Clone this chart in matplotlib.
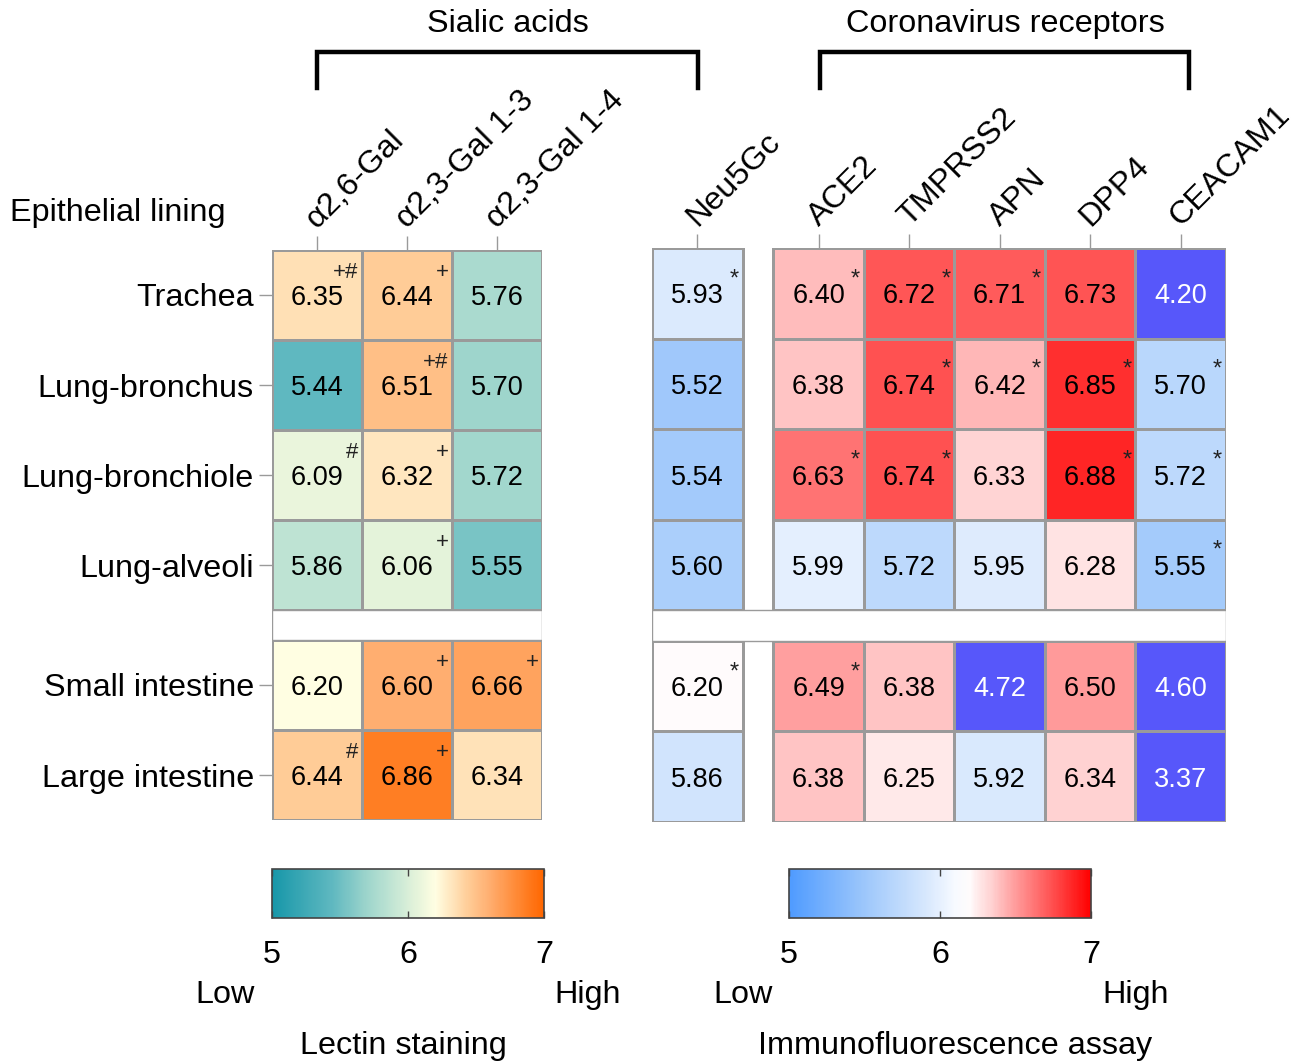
import numpy as np
import matplotlib
matplotlib.use("Agg")
import matplotlib.pyplot as plt
from matplotlib.colors import LinearSegmentedColormap, Normalize
from matplotlib.patches import Rectangle
from matplotlib.lines import Line2D
import matplotlib.cm as cm

plt.rcParams['font.family'] = ['Liberation Sans', 'DejaVu Sans']

# -------------------------------
# Data
# -------------------------------
tissues = ["Trachea", "Lung-bronchus", "Lung-bronchiole", "Lung-alveoli",
           "Small intestine", "Large intestine"]

lectins = ["α2,6-Gal", "α2,3-Gal 1-3", "α2,3-Gal 1-4"]
lectin_vals = [
    [6.35, 6.44, 5.76],
    [5.44, 6.51, 5.70],
    [6.09, 6.32, 5.72],
    [5.86, 6.06, 5.55],
    [6.20, 6.60, 6.66],
    [6.44, 6.86, 6.34],
]
lectin_marks = [
    ["+#", "+", ""],
    ["", "+#", ""],
    ["#", "+", ""],
    ["", "+", ""],
    ["", "+", "+"],
    ["#", "+", ""],
]

neu_label = "Neu5Gc"
neu_vals = [5.93, 5.52, 5.54, 5.60, 6.20, 5.86]
neu_marks = ["*", "", "", "", "*", ""]

receptors = ["ACE2", "TMPRSS2", "APN", "DPP4", "CEACAM1"]
receptor_vals = [
    [6.40, 6.72, 6.71, 6.73, 4.20],
    [6.38, 6.74, 6.42, 6.85, 5.70],
    [6.63, 6.74, 6.33, 6.88, 5.72],
    [5.99, 5.72, 5.95, 6.28, 5.55],
    [6.49, 6.38, 4.72, 6.50, 4.60],
    [6.38, 6.25, 5.92, 6.34, 3.37],
]
receptor_marks = [
    ["*", "*", "*", "", ""],
    ["", "*", "*", "*", "*"],
    ["*", "*", "", "*", "*"],
    ["", "", "", "", "*"],
    ["*", "", "", "", ""],
    ["", "", "", "", ""],
]

# -------------------------------
# Colormaps
# -------------------------------
def cmap_from_nodes(name, nodes, vmin=5, vmax=7):
    return LinearSegmentedColormap.from_list(
        name, [((v - vmin) / (vmax - vmin), c) for v, c in nodes])

lectin_cmap = cmap_from_nodes("lectin", [
    (5.0, "#1797a9"), (5.44, "#5fb8c0"), (5.7, "#9ed5cc"), (5.86, "#bde3d3"),
    (6.06, "#e4f3da"), (6.2, "#fffee2"), (6.35, "#ffe0b5"), (6.44, "#ffcd98"),
    (6.6, "#ffae70"), (6.86, "#ff7f25"), (7.0, "#ff6600")])

ifa_cmap = cmap_from_nodes("ifa", [
    (5.0, "#4f9bff"), (5.5, "#9dc7fb"), (5.9, "#d6e7fd"), (6.0, "#e6f0fe"),
    (6.1, "#f7faff"), (6.2, "#fffbfc"), (6.25, "#ffeaea"), (6.35, "#ffd0d0"),
    (6.4, "#ffbdbd"), (6.5, "#ff9c9c"), (6.72, "#ff5858"), (7.0, "#ff0000")])
ifa_cmap.set_under("#5757fa")

norm = Normalize(vmin=5, vmax=7)
edge = "#9a9a9a"
FS = 23.3

# -------------------------------
# Figure helpers (pixel layout)
# -------------------------------
W, H = 1313, 1062
fig = plt.figure(figsize=(W / 100, H / 100), dpi=100)


def px_axes(x0, y0, x1, y1):
    return fig.add_axes([x0 / W, 1 - y1 / H, (x1 - x0) / W, (y1 - y0) / H])


def fig_text(x, y, s, **kw):
    fig.text(x / W, 1 - y / H, s, **kw)


def fig_line(xs, ys):
    fig.add_artist(Line2D([x / W for x in xs], [1 - y / H for y in ys],
                          transform=fig.transFigure, color="black", lw=3.2,
                          solid_joinstyle="miter"))


def with_gap(rows, gap_after=4):
    arr = np.array(rows, dtype=float)
    arr = np.insert(arr, gap_after, np.nan, axis=0)
    return np.ma.masked_invalid(arr)


def style_top_ticks(ax, centers, labels):
    ax.xaxis.tick_top()
    ax.set_xticks(centers)
    ax.set_xticklabels(labels, fontsize=FS)
    for lab in ax.get_xticklabels():
        lab.set_rotation(45)
        lab.set_ha("left")
        lab.set_va("baseline")
        lab.set_rotation_mode("anchor")
    ax.tick_params(axis="x", length=10, width=1, color=edge, pad=5)


# -------------------------------
# Left panel: lectin staining
# -------------------------------
g = 1 / 3
ax1 = px_axes(272, 250, 542, 820)
x_edges = np.arange(4)
y_edges = np.array([0, 1, 2, 3, 4, 4 + g, 5 + g, 6 + g])
ax1.pcolormesh(x_edges, y_edges, with_gap(lectin_vals), cmap=lectin_cmap,
               norm=norm, edgecolors=edge, linewidth=1)
ax1.add_patch(Rectangle((0, 4), 3, g, facecolor="white", edgecolor=edge,
                        lw=1, zorder=3))
ax1.set_xlim(0, 3)
ax1.set_ylim(6 + g, 0)
row_centers = [r + 0.5 if r < 4 else r + g + 0.5 for r in range(6)]
for s in ax1.spines.values():
    s.set_visible(False)
ax1.set_yticks(row_centers)
ax1.set_yticklabels(tissues, fontsize=FS)
ax1.tick_params(axis="y", length=9.5, width=1, color=edge, pad=3.5)
style_top_ticks(ax1, np.arange(3) + 0.5, lectins)

for r in range(6):
    for c in range(3):
        ax1.text(c + 0.5, row_centers[r] + 0.035, f"{lectin_vals[r][c]:.2f}",
                 ha="center", va="center", fontsize=19.5)
        if lectin_marks[r][c]:
            ax1.text(c + 0.96, row_centers[r] - 0.25, lectin_marks[r][c],
                     ha="right", va="center", fontsize=16, color="#222222")

# -------------------------------
# Right panel: immunofluorescence
# -------------------------------
g2 = 0.34
ax2 = px_axes(652, 248, 1226, 822)
y2 = np.array([0, 1, 2, 3, 4, 4 + g2, 5 + g2, 6 + g2])
# Neu5Gc block and receptor block drawn separately (white gap between)
ax2.pcolormesh([0, 1], y2, with_gap([[v] for v in neu_vals]), cmap=ifa_cmap,
               norm=norm, edgecolors=edge, linewidth=1)
ax2.pcolormesh(np.arange(6) + 1 + g2, y2, with_gap(receptor_vals),
               cmap=ifa_cmap, norm=norm, edgecolors=edge, linewidth=1)
ax2.add_patch(Rectangle((0, 4), 6 + g2, g2, facecolor="white",
                        edgecolor=edge, lw=1, zorder=3))
ax2.set_xlim(0, 6 + g2)
ax2.set_ylim(6 + g2, 0)
for s in ax2.spines.values():
    s.set_visible(False)
ax2.set_yticks([])
col2 = [0.5] + [1 + g2 + 0.5 + i for i in range(5)]
style_top_ticks(ax2, col2, [neu_label] + receptors)
rc2 = [r + 0.5 if r < 4 else r + g2 + 0.5 for r in range(6)]

for r in range(6):
    vals = [neu_vals[r]] + receptor_vals[r]
    marks = [neu_marks[r]] + receptor_marks[r]
    for c in range(6):
        v = vals[c]
        ax2.text(col2[c], rc2[r] + 0.035, f"{v:.2f}", ha="center",
                 va="center", fontsize=19.5,
                 color="white" if v < 5 else "black")
        if marks[c]:
            ax2.text(col2[c] + 0.455, rc2[r] - 0.09, marks[c], ha="right",
                     va="baseline", fontsize=17, color="#222222")

# -------------------------------
# Group headers and brackets
# -------------------------------
fig_text(508, 24, "Sialic acids", ha="center", va="center", fontsize=FS)
fig_text(1005, 24, "Coronavirus receptors", ha="center", va="center",
         fontsize=FS)
fig_line([317, 317, 698, 698], [88, 52, 52, 88])
fig_line([820, 820, 1189, 1189], [88, 52, 52, 88])
fig_text(10, 213, "Epithelial lining", ha="left", va="center", fontsize=FS)

# -------------------------------
# Colorbars
# -------------------------------
for (x0, x1, cmap, lo, hi, title, tx) in [
        (272, 544, lectin_cmap, 225, 588, "Lectin staining", 403),
        (789, 1091, ifa_cmap, 743, 1136, "Immunofluorescence assay", 955)]:
    cax = px_axes(x0, 869, x1, 918)
    cb = fig.colorbar(cm.ScalarMappable(norm=norm, cmap=cmap), cax=cax,
                      orientation="horizontal")
    cb.set_ticks([5, 6, 7])
    cb.outline.set_edgecolor("#444444")
    cb.outline.set_linewidth(1.2)
    cax.tick_params(direction="in", top=True, bottom=True, length=5,
                    width=1, color="#444444", labelsize=FS, pad=16)
    fig_text(lo, 995, "Low", ha="center", va="center", fontsize=FS)
    fig_text(hi, 995, "High", ha="center", va="center", fontsize=FS)
    fig_text(tx, 1046, title, ha="center", va="center", fontsize=FS)

fig.savefig("out.png", dpi=100)
